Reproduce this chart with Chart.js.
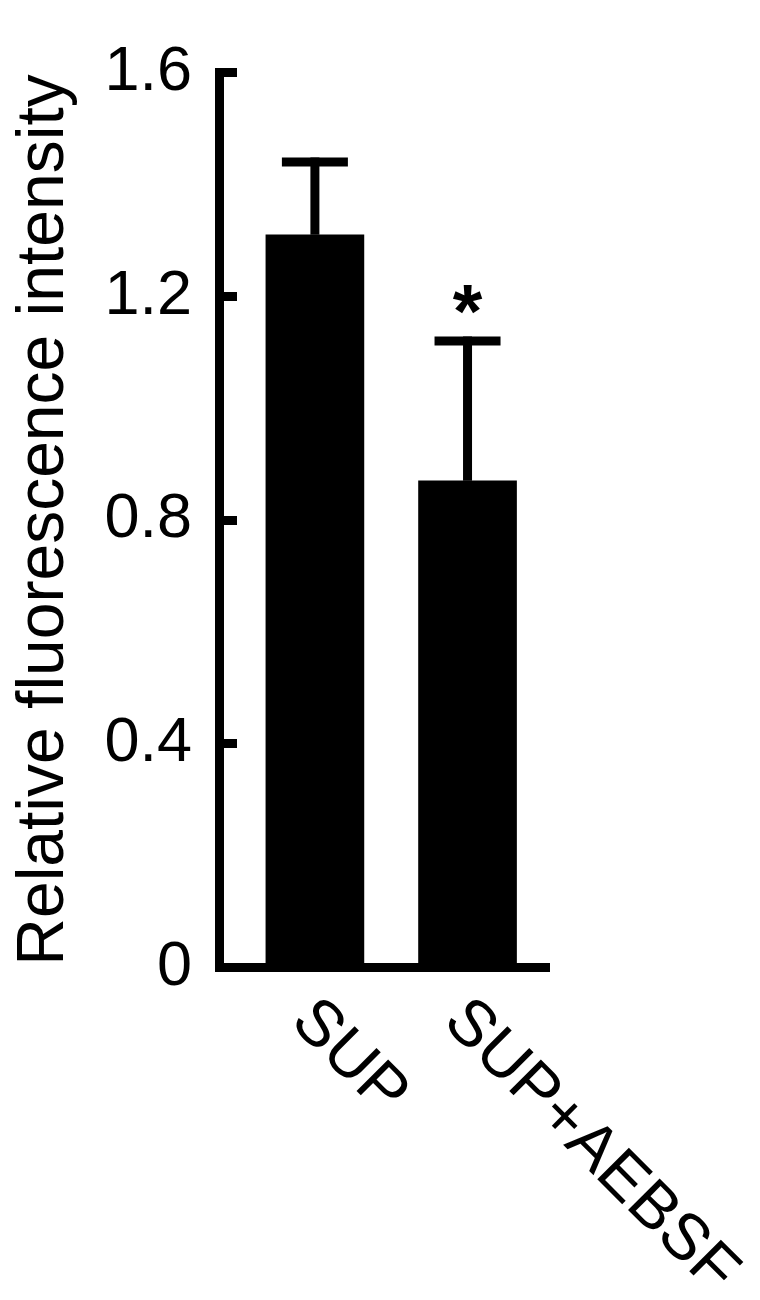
<!DOCTYPE html>
<html>
<head>
<meta charset="utf-8">
<script src="https://cdn.jsdelivr.net/npm/chart.js@4/dist/chart.umd.min.js"></script>
<style>
  html, body { margin: 0; padding: 0; background: #fff; }
  canvas { display: block; }
</style>
</head>
<body>
<canvas id="chart" width="760" height="1300"></canvas>
<script>
// --- data ---
const categories = ['SUP', 'SUP+AEBSF'];
const means = [1.31, 0.87];
const errors = [0.13, 0.25];          // upper error bar length
const marks = ['', '*'];              // significance marks
const yTickValues = [0, 0.4, 0.8, 1.2, 1.6];
const yTitle = 'Relative fluorescence intensity';

const FONT = "'Liberation Sans', Arial, Helvetica, sans-serif";

// error bars, asterisk and slanted category labels
const extrasPlugin = {
    id: 'extras',
    afterDatasetsDraw(chart) {
        const ctx = chart.ctx;
        const xs = chart.scales.x;
        const ys = chart.scales.y;
        ctx.save();
        ctx.strokeStyle = '#000';
        ctx.fillStyle = '#000';
        categories.forEach((cat, i) => {
            const x = xs.getPixelForValue(i + 1);
            const yBar = ys.getPixelForValue(means[i]);
            const yErr = ys.getPixelForValue(means[i] + errors[i]);

            // stem
            ctx.lineWidth = 9;
            ctx.lineCap = 'butt';
            ctx.beginPath();
            ctx.moveTo(x, yBar);
            ctx.lineTo(x, yErr - 4.5);
            ctx.stroke();
            // cap
            ctx.beginPath();
            ctx.moveTo(x - 33, yErr);
            ctx.lineTo(x + 33, yErr);
            ctx.stroke();

            // significance mark
            if (marks[i]) {
                ctx.font = 'bold 76px ' + FONT;
                const m = ctx.measureText(marks[i]);
                const h = m.actualBoundingBoxAscent + m.actualBoundingBoxDescent;
                ctx.textAlign = 'center';
                ctx.textBaseline = 'alphabetic';
                ctx.fillText(marks[i], x, yErr - 42 + h / 2 - m.actualBoundingBoxDescent);
            }

            // category label, slanted 45 degrees
            ctx.save();
            ctx.translate(x - 26, chart.chartArea.bottom + 56);
            ctx.rotate(Math.PI / 4);
            ctx.font = '65px ' + FONT;
            ctx.textAlign = 'left';
            ctx.textBaseline = 'alphabetic';
            ctx.fillText(cat, 0, 0);
            ctx.restore();
        });
        ctx.restore();
    }
};

new Chart(document.getElementById('chart'), {
    type: 'bar',
    data: {
        datasets: [{
            data: categories.map((c, i) => ({ x: i + 1, y: means[i] })),
            backgroundColor: '#000',
            borderWidth: 0,
            barThickness: 98
        }]
    },
    options: {
        responsive: false,
        animation: false,
        devicePixelRatio: 1,
        layout: { padding: { top: 72.5, right: 210.5, left: 0, bottom: 0 } },
        plugins: {
            legend: { display: false },
            tooltip: { enabled: false }
        },
        scales: {
            x: {
                type: 'linear',
                offset: false,
                min: 0.375,
                max: 2.537,
                grid: { display: false },
                ticks: { display: false },
                border: { display: true, color: '#000', width: 9 },
                afterFit(scale) { scale.height = 332.5; }
            },
            y: {
                min: 0,
                max: 1.6,
                afterBuildTicks(scale) {
                    scale.ticks = yTickValues.map(v => ({ value: v }));
                },
                afterFit(scale) {
                    scale.width = 219.5;
                    // labels may overhang the plot, the page has room
                    scale.paddingTop = 0;
                    scale.paddingBottom = 0;
                },
                ticks: {
                    color: '#000',
                    padding: 45,
                    font: { family: FONT, size: 63 },
                    callback: v => (v === 0 ? '0' : v.toFixed(1))
                },
                grid: {
                    display: true,
                    drawOnChartArea: false,
                    drawTicks: true,
                    tickLength: -17.5,
                    tickWidth: 9,
                    tickColor: '#000'
                },
                border: { display: true, color: '#000', width: 9 },
                title: {
                    display: true,
                    text: yTitle,
                    color: '#000',
                    font: { family: FONT, size: 66 },
                    padding: { top: 5, bottom: 0 }
                }
            }
        }
    },
    plugins: [extrasPlugin]
});
</script>
</body>
</html>
